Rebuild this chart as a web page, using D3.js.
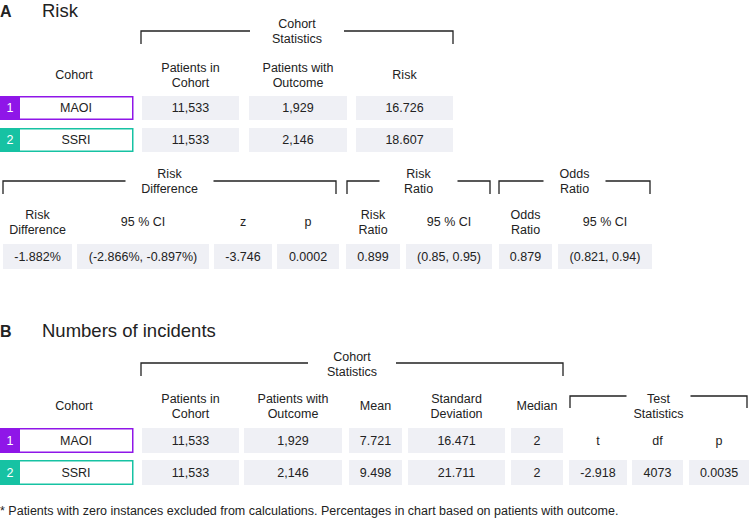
<!DOCTYPE html>
<html><head><meta charset="utf-8">
<script src="https://cdn.jsdelivr.net/npm/d3@7"></script>
<style>
body{margin:0;background:#fff;}
svg text{font-family:"Liberation Sans",Arial,sans-serif;fill:#222;}
</style></head>
<body><svg id="c" width="750" height="519"></svg>
<script>
// ---------- DATA ----------
const cohorts = ["MAOI", "SSRI"];
const cohortNums = ["1", "2"];
const cohortColors = ["#8f16e8", "#16c2a3"];

// Panel A – cohort statistics
const aHeaders = ["Patients in\nCohort", "Patients with\nOutcome", "Risk"];
const aPatients = ["11,533", "11,533"];
const aOutcome = ["1,929", "2,146"];
const aRisk = ["16.726", "18.607"];

// Panel A – comparison
const cmpHeaders = ["Risk\nDifference", "95 % CI", "z", "p", "Risk\nRatio", "95 % CI", "Odds\nRatio", "95 % CI"];
const cmpValues = ["-1.882%", "(-2.866%, -0.897%)", "-3.746", "0.0002", "0.899", "(0.85, 0.95)", "0.879", "(0.821, 0.94)"];

// Panel B – cohort statistics
const bHeaders = ["Patients in\nCohort", "Patients with\nOutcome", "Mean", "Standard\nDeviation", "Median"];
const bPatients = ["11,533", "11,533"];
const bOutcome = ["1,929", "2,146"];
const bMean = ["7.721", "9.498"];
const bSD = ["16.471", "21.711"];
const bMedian = ["2", "2"];
const testHeaders = ["t", "df", "p"];
const testValues = ["-2.918", "4073", "0.0035"];

const footnote = "* Patients with zero instances excluded from calculations. Percentages in chart based on patients with outcome.";

// ---------- LAYOUT ----------
const svg = d3.select("#c");
const CELL = "#eff0f5";
const LINE = "#222";

function multiText(g, x, y, str, size, opts = {}) {
  const lines = str.split("\n");
  const lh = size * 1.17;
  const t = g.append("text").attr("x", x).attr("text-anchor", opts.anchor || "middle")
    .attr("font-size", size).attr("font-weight", opts.weight || "normal");
  if (opts.fill) t.style("fill", opts.fill);
  lines.forEach((l, i) => {
    t.append("tspan").attr("x", x)
      .attr("y", y + (i - (lines.length - 1) / 2) * lh)
      .attr("dy", "0.35em").text(l);
  });
  return t;
}

function bracket(g, x0, x1, yTop, yBot, label, gapHalf, labelY) {
  const cx = (x0 + x1) / 2;
  g.append("path").attr("fill", "none").attr("stroke", LINE).attr("stroke-width", 1.3)
    .attr("d", `M${x0},${yBot}V${yTop}H${cx - gapHalf}M${cx + gapHalf},${yTop}H${x1}V${yBot}`);
  multiText(g, cx, labelY, label, 12.5);
}

function cells(g, cols, y, h, values, bg = true) {
  const sel = g.selectAll(null).data(values.map((v, i) => ({ v, c: cols[i] }))).enter();
  if (bg) sel.append("rect").attr("x", d => d.c[0]).attr("y", y)
    .attr("width", d => d.c[1] - d.c[0]).attr("height", h).attr("fill", CELL);
  sel.append("text").attr("x", d => (d.c[0] + d.c[1]) / 2).attr("y", y + h / 2)
    .attr("dy", "0.35em").attr("text-anchor", "middle").attr("font-size", 12.5).text(d => d.v);
}

function cohortCells(g, ys, h) {
  cohorts.forEach((name, i) => {
    const y = ys[i];
    g.append("rect").attr("x", 0.75).attr("y", y + 0.75).attr("width", 132).attr("height", h - 1.5)
      .attr("fill", "#fff").attr("stroke", cohortColors[i]).attr("stroke-width", 1.5);
    g.append("rect").attr("x", 0).attr("y", y).attr("width", 20).attr("height", h).attr("fill", cohortColors[i]);
    g.append("text").attr("x", 10).attr("y", y + h / 2).attr("dy", "0.35em").attr("text-anchor", "middle")
      .attr("font-size", 12.5).style("fill", "#fff").text(cohortNums[i]);
    g.append("text").attr("x", 76).attr("y", y + h / 2).attr("dy", "0.35em").attr("text-anchor", "middle")
      .attr("font-size", 12.5).text(name);
  });
}

function panelTitle(g, letter, title, y) {
  g.append("text").attr("x", 0).attr("y", y).attr("font-size", 16).attr("font-weight", "bold").text(letter);
  g.append("text").attr("x", 42).attr("y", y).attr("font-size", 18.5).text(title);
}

// ---------- PANEL A ----------
const gA = svg.append("g");
panelTitle(gA, "A", "Risk", 17);
bracket(gA, 141, 453, 31, 44, "Cohort\nStatistics", 47, 31);
const aCols = [[142, 239], [249, 347], [356, 453]];
multiText(gA, 74, 75, "Cohort", 12.5);
aHeaders.forEach((h, i) => multiText(gA, (aCols[i][0] + aCols[i][1]) / 2, 75, h, 12.5));
cohortCells(gA, [96, 128], 24);
[0, 1].forEach(r => cells(gA, aCols, [96, 128][r], 24, [aPatients[r], aOutcome[r], aRisk[r]]));

// comparison
bracket(gA, 3, 336, 181, 194, "Risk\nDifference", 44, 181);
bracket(gA, 347, 490, 181, 194, "Risk\nRatio", 39, 181);
bracket(gA, 499, 650, 181, 194, "Odds\nRatio", 31, 181);
const cCols = [[3, 72], [77, 209], [214, 272], [277, 339], [346, 400], [406, 492], [499, 552], [558, 652]];
cmpHeaders.forEach((h, i) => multiText(gA, (cCols[i][0] + cCols[i][1]) / 2, 222, h, 12.5));
cells(gA, cCols, 244, 25, cmpValues);

// ---------- PANEL B ----------
const gB = svg.append("g");
panelTitle(gB, "B", "Numbers of incidents", 337);
bracket(gB, 141, 563, 363, 376, "Cohort\nStatistics", 44, 364);
const bCols = [[142, 239], [244, 342], [349, 402], [408, 505], [511, 563]];
multiText(gB, 74, 406, "Cohort", 12.5);
bHeaders.forEach((h, i) => multiText(gB, (bCols[i][0] + bCols[i][1]) / 2, 406, h, 12.5));
bracket(gB, 570, 747, 396, 408, "Test\nStatistics", 32, 406);
cohortCells(gB, [428, 460], 25);
[0, 1].forEach(r => cells(gB, bCols, [428, 460][r], 25, [bPatients[r], bOutcome[r], bMean[r], bSD[r], bMedian[r]]));
const tCols = [[569, 627], [632, 683], [689, 749]];
cells(gB, tCols, 428, 25, testHeaders, false);
cells(gB, tCols, 460, 25, testValues);

svg.append("text").attr("x", 0).attr("y", 511).attr("dy", "0.35em").attr("font-size", 12.5).text(footnote);
</script></body></html>
